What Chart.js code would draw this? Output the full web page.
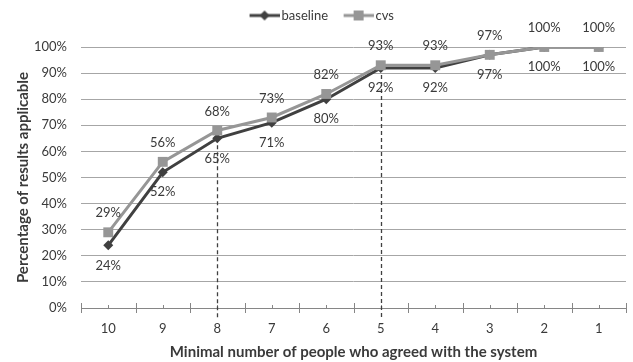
<!DOCTYPE html>
<html><head><meta charset="utf-8">
<script src="https://cdn.jsdelivr.net/npm/chart.js@4/dist/chart.umd.min.js"></script>
<style>html,body{margin:0;padding:0;background:#fff}#wrap{width:633px;height:362px}</style>
</head><body><div id="wrap"><canvas id="c" width="633" height="362"></canvas></div>
<script>
const categories = ['10','9','8','7','6','5','4','3','2','1'];
const seriesNames = ['baseline','cvs'];
const baselineValues = [24,52,65,71,80,92,92,97,100,100];
const cvsValues = [29,56,68,73,82,93,93,97,100,100];
const yTickValues = [0,10,20,30,40,50,60,70,80,90,100];
const markedCategories = ['8','5'];
const xTitle = 'Minimal number of people who agreed with the system';
const yTitle = 'Percentage of results applicable';

const DARK = '#404040', LIGHT = '#969696', TEXT = '#3a3a3a', GRID = '#a6a6a6', AXIS = '#868686';
const FONT = 'Lato';

function makeIcon(color, shape){
  const c = document.createElement('canvas'); c.width = 42; c.height = 12;
  const g = c.getContext('2d');
  g.strokeStyle = color; g.lineWidth = 3;
  g.beginPath(); g.moveTo(12,6); g.lineTo(42,6); g.stroke();
  g.fillStyle = color;
  if (shape === 'diamond') { g.beginPath(); g.moveTo(27,1); g.lineTo(32,6); g.lineTo(27,11); g.lineTo(22,6); g.closePath(); g.fill(); }
  else { g.fillRect(22,1,10,10); }
  return c;
}
const icons = [makeIcon(DARK,'diamond'), makeIcon(LIGHT,'square')];

const extrasPlugin = {
  id: 'extras',
  afterLayout(chart){
    const lg = chart.legend;
    if (lg) { lg.top -= 15; lg.bottom -= 15; lg.left += 3; lg.right += 3; }
  },
  beforeDatasetsDraw(chart){
    const ctx = chart.ctx, xs = chart.scales.x, ys = chart.scales.y;
    const y0 = ys.getPixelForValue(0);
    const half = (xs.getPixelForValue(1) - xs.getPixelForValue(0)) / 2;
    ctx.save();
    ctx.strokeStyle = AXIS; ctx.lineWidth = 1;
    for (let i = 0; i < categories.length; i++) {
      const cx = xs.getPixelForValue(i);
      ctx.beginPath(); ctx.moveTo(Math.round(cx)+0.5, y0-3); ctx.lineTo(Math.round(cx)+0.5, y0); ctx.stroke();
      const bx = cx - half;
      ctx.beginPath(); ctx.moveTo(Math.round(bx)+0.5, y0-5); ctx.lineTo(Math.round(bx)+0.5, y0+5); ctx.stroke();
    }
    const ex = xs.getPixelForValue(categories.length-1) + half;
    ctx.beginPath(); ctx.moveTo(Math.round(ex)+0.5, y0-5); ctx.lineTo(Math.round(ex)+0.5, y0+5); ctx.stroke();
    ctx.strokeStyle = DARK; ctx.lineWidth = 1.3; ctx.setLineDash([4,3]);
    markedCategories.forEach(cat => {
      const i = categories.indexOf(cat);
      const x = Math.round(xs.getPixelForValue(i)) + 0.5;
      const yt = ys.getPixelForValue(baselineValues[i]);
      ctx.beginPath(); ctx.moveTo(x, yt); ctx.lineTo(x, y0 + 10); ctx.stroke();
    });
    ctx.restore();
  },
  afterDatasetsDraw(chart){
    const ctx = chart.ctx;
    ctx.save();
    ctx.font = '13px ' + FONT; ctx.fillStyle = TEXT; ctx.textAlign = 'center'; ctx.textBaseline = 'middle';
    chart.data.datasets.forEach((ds, di) => {
      const meta = chart.getDatasetMeta(di);
      const off = di === 0 ? 20 : -19;
      meta.data.forEach((el, i) => {
        ctx.fillText(ds.data[i] + '%', el.x, el.y + off);
      });
    });
    ctx.restore();
  }
};

new Chart(document.getElementById('c'), {
  type: 'line',
  data: {
    labels: categories,
    datasets: [
      { label: seriesNames[0], data: baselineValues, borderColor: DARK, backgroundColor: DARK, borderWidth: 3,
        pointStyle: 'rectRot', pointRadius: 5, pointHoverRadius: 5, pointBorderWidth: 0, order: 1, tension: 0 },
      { label: seriesNames[1], data: cvsValues, borderColor: LIGHT, backgroundColor: LIGHT, borderWidth: 3,
        pointStyle: 'rect', pointRadius: 7, pointHoverRadius: 7, pointBorderWidth: 0, order: 0, tension: 0 }
    ]
  },
  options: {
    responsive: false, devicePixelRatio: 1, animation: false,
    layout: { padding: { left: 0, right: 3, top: 16, bottom: 0 } },
    plugins: {
      tooltip: { enabled: false },
      legend: {
        position: 'top',
        labels: {
          usePointStyle: true, pointStyleWidth: 33, boxHeight: 12, padding: 8,
          font: { family: FONT, size: 13 }, color: TEXT,
          generateLabels: () => seriesNames.map((n, i) => ({ text: n, pointStyle: icons[i], fillStyle: i ? LIGHT : DARK,
            strokeStyle: i ? LIGHT : DARK, lineWidth: 0, hidden: false, datasetIndex: i, fontColor: TEXT }))
        }
      }
    },
    scales: {
      x: {
        offset: true,
        grid: { display: false },
        border: { display: true, color: AXIS, width: 1 },
        ticks: { color: TEXT, font: { family: FONT, size: 13 }, padding: 5 },
        title: { display: true, text: xTitle, color: TEXT, font: { family: FONT, size: 15, weight: 'bold' }, padding: { top: 4, bottom: 1 } },
        afterFit: s => { s.height = 54; }
      },
      y: {
        min: 0, max: 100,
        afterBuildTicks: s => { s.ticks = yTickValues.map(v => ({ value: v })); },
        grid: { color: GRID, drawTicks: false },
        border: { display: false },
        ticks: { color: TEXT, font: { family: FONT, size: 13 }, padding: 14, callback: v => v + '%' },
        title: { display: true, text: yTitle, color: TEXT, font: { family: FONT, size: 15, weight: 'bold' }, padding: { top: 14, bottom: 4 } },
        afterFit: s => { s.width = 81; }
      }
    }
  },
  plugins: [extrasPlugin]
});
</script>
</body></html>
